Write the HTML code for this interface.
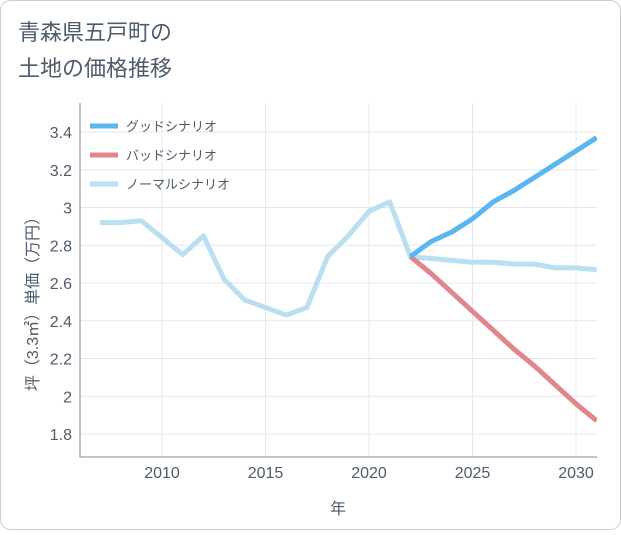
<!DOCTYPE html>
<html><head><meta charset="utf-8"><style>
body{margin:0;background:#fff;}
#wrap{position:relative;width:621px;height:530px;background:#fff;}
text{font-family:"Liberation Sans","Noto Sans CJK JP",sans-serif;}
</style></head><body>
<div id="wrap">
<svg id="chart" width="621" height="530">
<rect x="0.5" y="0.5" width="620" height="529" rx="10" fill="#fff" stroke="#ccc"/>
<text x="18" y="40" font-size="22" fill="#4d5b6b">青森県五戸町の</text>
<text x="18" y="76" font-size="22" fill="#4d5b6b">土地の価格推移</text>
<g id="grid"></g><g id="series"></g><g id="axes"></g>
<text transform="translate(38,300) rotate(-90)" text-anchor="middle" font-size="16" fill="#4d5b6b">坪（3.3㎡）単価（万円）</text>
<text x="338" y="514" text-anchor="middle" font-size="16" fill="#4d5b6b">年</text>
<g id="legend"></g>
</svg></div>
<script>
const normalYears=[2007,2008,2009,2010,2011,2012,2013,2014,2015,2016,2017,2018,2019,2020,2021,2022,2023,2024,2025,2026,2027,2028,2029,2030,2031];
const normalValues=[2.92,2.92,2.93,2.84,2.75,2.85,2.62,2.51,2.47,2.43,2.47,2.74,2.85,2.98,3.03,2.74,2.73,2.72,2.71,2.71,2.70,2.70,2.68,2.68,2.67];
const futureYears=[2022,2023,2024,2025,2026,2027,2028,2029,2030,2031];
const goodValues=[2.74,2.82,2.87,2.94,3.03,3.09,3.16,3.23,3.30,3.37];
const badValues=[2.74,2.65,2.55,2.45,2.35,2.25,2.16,2.06,1.96,1.87];
const xTicks=[2010,2015,2020,2025,2030];
const yTicks=[1.8,2,2.2,2.4,2.6,2.8,3,3.2,3.4];
const legendLabels=["グッドシナリオ","バッドシナリオ","ノーマルシナリオ"];
const L=80,R=597,T=103,B=457;
const x=v=>162+(v-2010)*(576-162)/20;
const y=v=>434-(v-1.8)*(434-132)/1.6;
const NS="http://www.w3.org/2000/svg";
function mk(t,a,p){const e=document.createElementNS(NS,t);for(const k in a)e.setAttribute(k,a[k]);p.appendChild(e);return e;}
const grid=document.getElementById('grid'),axes=document.getElementById('axes'),ser=document.getElementById('series'),leg=document.getElementById('legend');
xTicks.forEach(t=>{const l=mk('line',{x1:x(t),x2:x(t),y1:T,y2:B,stroke:'#e4e8ee'},grid);


const tx=mk('text',{x:x(t),y:478,'text-anchor':'middle','font-size':16,fill:'#4d5b6b'},axes);tx.textContent=t;

});
yTicks.forEach(t=>{const l=mk('line',{x1:L,x2:R,y1:y(t),y2:y(t),stroke:'#e4e8ee'},grid);


const tx=mk('text',{x:72,y:y(t)+6,'text-anchor':'end','font-size':16,fill:'#4d5b6b'},axes);tx.textContent=String(t);

});
const ax=mk('path',{d:`M${L},${T}V${B}H${R}`,fill:'none',stroke:'#888'},axes);


function line(xs,vs,c,name){const p=mk('polyline',{points:xs.map((v,i)=>x(v)+','+y(vs[i])).join(' '),fill:'none',stroke:c,'stroke-width':5,'stroke-linejoin':'round'},ser);

}
const clip=mk('clipPath',{id:'cp'},document.getElementById('chart'));mk('rect',{x:L,y:T,width:R-L,height:B-T},clip);
ser.setAttribute('clip-path','url(#cp)');
line(normalYears,normalValues,'#b9dff0','normal-scenario-line');
line(futureYears,badValues,'#e0868c','bad-scenario-line');
line(futureYears,goodValues,'#5ab6f0','good-scenario-line');
const cols=['#5ab6f0','#e0868c','#b9dff0'];
legendLabels.forEach((lb,i)=>{const yy=126+i*29;
const l=mk('line',{x1:90,x2:118,y1:yy,y2:yy,stroke:cols[i],'stroke-width':5},leg);


const t=mk('text',{x:126,y:yy+5,'font-size':13,fill:'#4d5b6b'},leg);t.textContent=lb;

});
</script></body></html>
